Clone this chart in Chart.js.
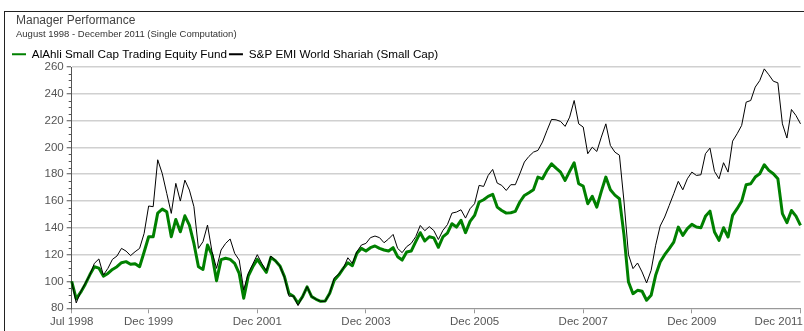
<!DOCTYPE html>
<html>
<head>
<meta charset="utf-8">
<script src="https://cdn.jsdelivr.net/npm/chart.js@4.4.1/dist/chart.umd.min.js"></script>
<style>
  html, body { margin: 0; padding: 0; background: #fff; overflow: hidden; }
  #frame { position: absolute; left: 4px; top: 11px; width: 830px; height: 340px;
           border-left: 1.5px solid #222; border-top: 1.5px solid #222; }
  #wrap { position: absolute; left: 0; top: 0; width: 804px; height: 331px; }
</style>
</head>
<body>
<div id="frame"></div>
<div id="wrap"><canvas id="chart" width="804" height="331"></canvas></div>
<script>
// Monthly index values, Jul 1998 = 100
const fundName = 'AlAhli Small Cap Trading Equity Fund';
const benchName = 'S&P EMI World Shariah (Small Cap)';

const fundValues = [
  100, 87, 92, 98, 105, 111, 110, 104, 106, 109, 111, 114,
  114.8, 112.8, 113.3, 111, 122, 133.4, 133.4, 151, 154, 152, 133.4, 146.3,
  137.1, 149, 142.1, 128.4, 111, 109, 127.2, 119.8, 100.6, 116.3, 117.3, 116.5,
  113.5, 106, 87.5, 104, 111, 116.5, 111.6, 106.8, 118, 115.5, 111.6, 103.6,
  91, 89, 83.7, 88.7, 96, 88.7, 86.7, 85.2, 85.5, 91.2, 101, 104.8,
  109.8, 114, 111.8, 121, 124.7, 122.7, 125.2, 126.5, 124.7, 123.5, 122.7, 125.2,
  118.5, 116, 122, 122.7, 129.7, 136.4, 130.2, 133.4, 132.5, 125.5, 133.2, 136.1,
  143.1, 140.6, 145.6, 136.4, 144.8, 149.3, 159.3, 161, 163.5, 165, 155.5, 153,
  151, 151.3, 152.3, 159.3, 164.2, 166.2, 168.4, 177.9, 176.6, 182.9, 187.8, 184.6,
  181.6, 175.4, 182.1, 188.6, 172.9, 171.2, 158, 163.5, 155.5, 167.2, 177.9, 168.4,
  164.4, 161.7, 135, 99.6, 90.9, 93.4, 92.7, 86, 89.7, 104.6, 114.5, 120,
  124.5, 129.4, 140.6, 134.4, 139.4, 142.6, 140.6, 140.1, 148.6, 152.5, 136.9, 130.7,
  140.1, 133.2, 149.3, 154.3, 159.8, 172.2, 172.9, 177.9, 180.4, 187.1, 182.9, 180.4,
  176.6, 150.6, 143.9, 153, 148.8, 141.9
];

const benchValues = [
  100, 84, 92.4, 98.6, 104.8, 113.5, 116.8, 104.8, 109.8, 116.5, 119, 124.7,
  122.7, 119.3, 122.2, 124.7, 135.9, 156.3, 155.8, 190.8, 180.6, 165.7, 150.8, 173.2,
  160, 175.6, 168.2, 155.8, 124.7, 129.7, 142.1, 122.2, 109.8, 123.5, 128.4, 131.7,
  121, 116, 93.7, 106, 113, 120, 113.5, 108, 119, 115.5, 111.6, 103,
  89, 89.2, 82, 88.7, 96.1, 88.7, 86.7, 85.2, 85.2, 91.2, 102.7, 105.5,
  109.8, 117.7, 113.5, 122.2, 127.2, 128.4, 132.7, 133.9, 132.7, 128.9, 131.7, 135.1,
  124.7, 121.5, 126, 128.4, 133.4, 141.8, 137.9, 140.9, 138, 131.3, 138.1, 142.4,
  151, 151.8, 153.5, 147.3, 154.3, 158, 171.7, 170.9, 179.1, 183.6, 173.4, 171.7,
  167.9, 172.2, 172.2, 180.4, 189.1, 193.3, 196.5, 197.8, 204, 212.7, 220.9, 220.6,
  219.4, 215.7, 222.6, 235, 217.6, 215.2, 195.3, 200.2, 197, 207.7, 217.6, 201.5,
  196.5, 194.2, 160, 120, 109.6, 113.8, 107.1, 98.9, 108.3, 127, 141.4, 148.1,
  156.8, 165.5, 174.7, 168.4, 176.6, 181.6, 179.1, 179.6, 195.3, 199.5, 182.1, 176.6,
  188.6, 181.6, 204.7, 210.2, 216.4, 233.8, 235, 245, 249.9, 258.6, 254.2, 249.4,
  248.2, 217.6, 207, 228.3, 223.8, 217.6
];

const tickLabels = ['Jul 1998', 'Dec 1999', 'Dec 2001', 'Dec 2003', 'Dec 2005', 'Dec 2007', 'Dec 2009', 'Dec 2011'];
const yTicks = [80, 100, 120, 140, 160, 180, 200, 220, 240, 260];

// Month categories starting Jul 1998
const monthNames = ['Jan', 'Feb', 'Mar', 'Apr', 'May', 'Jun', 'Jul', 'Aug', 'Sep', 'Oct', 'Nov', 'Dec'];
const months = [];
for (let k = 0; k < fundValues.length; k++) {
  const m = 6 + k;
  months.push(monthNames[m % 12] + ' ' + (1998 + Math.floor(m / 12)));
}

const FONT = '"Liberation Sans", Arial, sans-serif';

// Small ticks every 5 points along the value axis
const minorTicks = {
  id: 'minorTicks',
  afterDraw(chart) {
    const y = chart.scales.y, ctx = chart.ctx, left = chart.chartArea.left;
    ctx.save();
    ctx.strokeStyle = '#555';
    ctx.lineWidth = 1;
    for (let v = yTicks[0]; v <= yTicks[yTicks.length - 1]; v += 5) {
      if (yTicks.includes(v)) continue;
      const py = Math.round(y.getPixelForValue(v)) + 0.5;
      ctx.beginPath();
      ctx.moveTo(left - 3, py);
      ctx.lineTo(left, py);
      ctx.stroke();
    }
    ctx.restore();
  }
};

// Date labels under the category axis, kept inside the canvas at the right edge
const dateLabels = {
  id: 'dateLabels',
  afterDraw(chart) {
    const x = chart.scales.x, ctx = chart.ctx;
    ctx.save();
    ctx.font = '11.5px ' + FONT;
    ctx.fillStyle = '#555';
    ctx.textBaseline = 'top';
    ctx.textAlign = 'left';
    tickLabels.forEach(lbl => {
      const idx = months.indexOf(lbl);
      if (idx < 0) return;
      const px = x.getPixelForValue(idx);
      const w = ctx.measureText(lbl).width;
      let left = px - w / 2;
      if (left + w > chart.width - 1) left = chart.width - 1 - w;
      ctx.fillText(lbl, left, x.top + 8);
    });
    ctx.restore();
  }
};

// Header placement: indent the title lines, tighten the legend band
const headerLayout = {
  id: 'headerLayout',
  beforeLayout(chart) {
    const lg = chart.legend;
    if (lg && !lg._trimmed) {
      const fit = lg.fit;
      lg.fit = function () { fit.call(this); this.height -= 3.15; };
      lg._trimmed = true;
    }
  },
  afterLayout(chart) {
    chart.boxes.forEach(b => {
      if (b !== chart.legend && b.options && typeof b.options.text === 'string') {
        b.left += 6;
        b.right += 6;
      }
    });
  }
};

new Chart(document.getElementById('chart'), {
  type: 'line',
  data: {
    labels: months,
    datasets: [
      { label: fundName, data: fundValues, borderColor: '#008000', borderWidth: 3,
        pointRadius: 0, tension: 0, fill: false, order: 2, borderJoinStyle: 'round' },
      { label: benchName, data: benchValues, borderColor: '#000000', borderWidth: 1,
        pointRadius: 0, tension: 0, fill: false, order: 1 }
    ]
  },
  options: {
    responsive: false,
    animation: false,
    devicePixelRatio: 1,
    events: [],
    layout: { padding: { left: 10, right: 3.5, top: 0, bottom: 0 }, autoPadding: false },
    plugins: {
      title: {
        display: true, text: 'Manager Performance', align: 'start', color: '#444',
        font: { family: FONT, size: 12, weight: 'normal' }, padding: { top: 13.8, bottom: 0 }
      },
      subtitle: {
        display: true, text: 'August 1998 - December 2011 (Single Computation)', align: 'start',
        color: '#333', font: { family: FONT, size: 9.5, weight: 'normal' }, padding: { top: 0.4, bottom: 6.45 }
      },
      legend: {
        display: true, align: 'start',
        labels: {
          usePointStyle: true, pointStyle: 'line', pointStyleWidth: 14, padding: 2,
          color: '#333', font: { family: FONT, size: 11.7 },
          generateLabels: (chart) => chart.data.datasets.map((ds, i) => ({
            text: ds.label, strokeStyle: ds.borderColor, fillStyle: ds.borderColor,
            lineWidth: 2, pointStyle: 'line', datasetIndex: i, hidden: false
          }))
        }
      },
      tooltip: { enabled: false }
    },
    scales: {
      x: {
        type: 'category',
        offset: false,
        afterBuildTicks: (scale) => {
          scale.ticks = scale.ticks.filter(t => tickLabels.includes(months[t.value]));
        },
        afterFit: (scale) => { scale.height = 22.7; },
        ticks: { display: false, autoSkip: false, maxRotation: 0 },
        grid: { display: true, drawOnChartArea: false, drawTicks: true, tickLength: 5, color: '#999', lineWidth: 1 },
        border: { display: true, color: '#999', width: 1 }
      },
      y: {
        min: 80, max: 260,
        afterBuildTicks: (scale) => { scale.ticks = yTicks.map(v => ({ value: v })); },
        afterFit: (scale) => { scale.width = 61.7; },
        ticks: { color: '#555', padding: 3, font: { family: FONT, size: 11.5 } },
        grid: { color: '#d0d0d0', lineWidth: 1.5, drawTicks: true, tickLength: 5, tickColor: '#555', tickWidth: 1 },
        border: { display: true, color: '#555', width: 1 }
      }
    }
  },
  plugins: [minorTicks, dateLabels, headerLayout]
});
</script>
</body>
</html>
